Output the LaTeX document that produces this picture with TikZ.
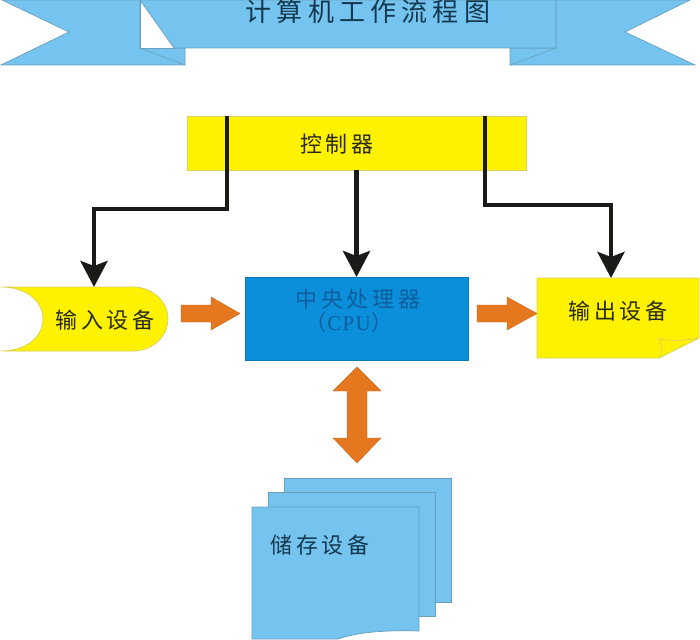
\documentclass[tikz,border=0pt]{standalone}
\usepackage{fontspec}
\usetikzlibrary{arrows.meta}
\newfontfamily\cjkwide[LetterSpace=16]{Noto Sans CJK SC}
\newfontfamily\cjktitle[LetterSpace=20]{Noto Sans CJK SC}
\newfontfamily\cjkplain{Noto Sans CJK SC}
\setmainfont[LetterSpace=6]{Liberation Serif}
\definecolor{ryellow}{HTML}{FFF200}
\definecolor{ryellowline}{HTML}{D9CF5A}
\definecolor{rblue}{HTML}{75C3EF}
\definecolor{rblueline}{HTML}{6B9FBE}
\definecolor{rcpu}{HTML}{0B8FDA}
\definecolor{rorange}{HTML}{E5781F}
\definecolor{rblack}{HTML}{1A1A18}
\definecolor{rink}{HTML}{2A2A18}
\definecolor{rinkblue}{HTML}{14394F}
\definecolor{rinkcpu}{HTML}{0E5E9C}
\tikzset{
  band/.style={fill=rblue,draw=rblueline,line width=0.7pt,line join=miter},
  yellowshape/.style={fill=ryellow,draw=ryellowline,line width=0.7pt},
  blockorange/.style={fill=rorange,draw=rorange!85!black,line width=0.4pt,line join=miter},
  boxnode/.style={inner sep=0pt,outer sep=0pt,anchor=north west},
  label/.style={inner sep=0pt,outer sep=0pt,font=\cjkwide\fontsize{22}{24}\selectfont,text=rink},
  conn/.style={draw=rblack,line width=4.8pt,line join=miter,
    -{Stealth[length=26pt,width=27pt,inset=5pt]}},
}
\begin{document}
\begin{tikzpicture}[x=1pt,y=-1pt]
\useasboundingbox (0,0) rectangle (700,639);
% ribbon tails
\draw[band] (2,0) -- (69,32) -- (1,65) -- (185,65) -- (185,48) -- (140,48) -- (140,0) -- cycle;
\draw[band] (510,48) -- (510,65) -- (695,65) -- (625,32) -- (690,0) -- (556,0) -- (556,48) -- cycle;
\draw[rblueline,line width=0.6pt] (140,48) -- (185,65);
\draw[rblueline,line width=0.6pt] (510,65) -- (556,48);
% white fold
\fill[white] (140,0) -- (140,48) -- (174,48) -- cycle;
\draw[rblueline,line width=0.6pt] (140,0) -- (140,48) -- (174,48);
% ribbon centre
\draw[band] (140,0) -- (174,48) -- (556,48) -- (556,0) -- cycle;
\node[inner sep=0pt,text=rinkblue,font=\cjktitle\fontsize{26}{28}\selectfont] (title) at (368,12) {计算机工作流程图};
% controller
\node[boxnode,yellowshape,minimum width=339pt,minimum height=54pt] (ctrl) at (187,116) {};
\node[label] (ctrltext) at (337,144) {控制器};
% cpu
\node[boxnode,fill=rcpu,draw=rcpu!85!black,line width=0.5pt,minimum width=223pt,minimum height=83pt] (cpu) at (245,277) {};
\node[inner sep=0pt,text=rinkcpu,font=\cjkwide\fontsize{22}{24}\selectfont] (cputext) at (358,299) {中央处理器};
\node[inner sep=0pt,text=rinkcpu,font=\fontsize{21}{24}\selectfont] (cpulabel) at (349,323) {{\cjkplain （}\kern1pt CPU\kern1pt{\cjkplain ）}};
% input device
\draw[yellowshape] (1,287) -- (133,287) .. controls (152.3,287) and (168,301.3) .. (168,319)
  .. controls (168,336.7) and (152.3,351) .. (133,351) -- (1,351)
  .. controls (26,351) and (43,337) .. (43,319) .. controls (43,301) and (26,287) .. (1,287) -- cycle;
\node[label] (inputtext) at (105,320) {输入设备};
% output device
\draw[yellowshape] (537,278) -- (699,278) -- (699,338) -- (659,358) -- (537,358) -- cycle;
\draw[ryellowline,line width=0.7pt] (699,338) .. controls (685,341) and (670,341) .. (659,339)
  .. controls (663,346) and (663,352) .. (659,358);
\node[label] (outputtext) at (618,311) {输出设备};
% storage
\draw[band] (284,478) rectangle (451,602);
\draw[band] (268,492) rectangle (435,616);
\draw[band] (252,507) -- (419,507) -- (419,631) .. controls (385,630) and (358,632) .. (338,639) -- (252,639) -- cycle;
\node[inner sep=0pt,text=rinkblue,font=\cjkwide\fontsize{22}{24}\selectfont] (storetext) at (320,545) {储存设备};
% named ends
\coordinate (cl) at (227,116);
\coordinate (clb) at (227,209);
\coordinate (ila) at (94,209);
\coordinate (inputtop) at (94,287);
\coordinate (cr) at (485,116);
\coordinate (crb) at (485,205);
\coordinate (ora) at (611,205);
\coordinate (outputtop) at (611,278);
% connectors
\draw[conn] (cl) -- (clb) -- (ila) -- (inputtop);
\draw[conn] (cr) -- (crb) -- (ora) -- (outputtop);
\draw[conn] (ctrl.south) -- (cpu.north);
% orange arrows
\draw[blockorange] (181,305) -- (211,305) -- (211,297) -- (240,313.5) -- (211,330) -- (211,322) -- (181,322) -- cycle;
\draw[blockorange] (477,305) -- (507,305) -- (507,297) -- (537,313.5) -- (507,330) -- (507,322) -- (477,322) -- cycle;
\draw[blockorange] (357,367) -- (381,391) -- (367,391) -- (367,438) -- (381,438) -- (357,463) -- (333,438) -- (347,438) -- (347,391) -- (333,391) -- cycle;
\end{tikzpicture}
\end{document}
